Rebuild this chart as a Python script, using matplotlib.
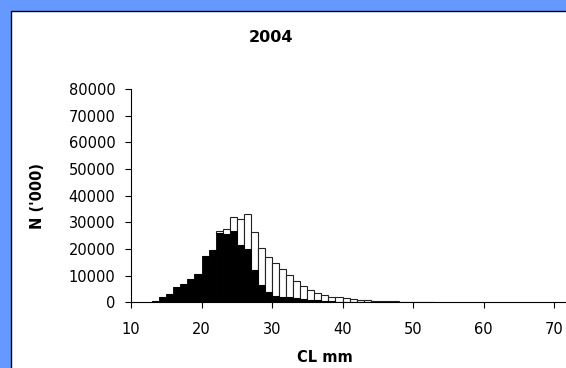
import matplotlib
matplotlib.use("Agg")
import matplotlib.pyplot as plt
from matplotlib.patches import Rectangle

# carapace length classes (left edge of each 1 mm class)
cl_classes = list(range(13, 53))

# lower (black) series, N ('000)
black_vals = [400, 2000, 3300, 5600, 6800, 8900, 10500, 17400, 19500, 26100,
              25500, 26600, 21600, 19900, 12100, 6600, 3800, 2400, 2100, 1900,
              1500, 1200, 900, 700, 500, 400, 300, 200, 150, 100,
              50, 50, 50, 0, 0, 0, 0, 0, 0, 0]

# total height of each stacked bar, N ('000)
total_vals = [400, 2000, 3300, 5600, 6800, 8900, 10500, 17400, 19500, 26900,
              27400, 32100, 31400, 33000, 26400, 20300, 16900, 14600, 12600, 10200,
              8000, 6200, 4700, 3500, 2600, 2000, 1850, 1800, 1300, 1000,
              800, 600, 600, 500, 350, 300, 250, 200, 150, 100]

white_vals = [t - b for t, b in zip(total_vals, black_vals)]

y_ticks = [0, 10000, 20000, 30000, 40000, 50000, 60000, 70000, 80000]
x_ticks = [10, 20, 30, 40, 50, 60, 70]

plt.rcParams['font.family'] = ['DejaVu Sans']

W, H = 566, 368
fig = plt.figure(figsize=(W / 100, H / 100), dpi=100)
fig.patch.set_facecolor('#6699ff')

# white chart area with thin black border (blue frame shows at left/top)
fig.patches.append(Rectangle((11 / W, -0.05), 1.2, (H - 11) / H + 0.05,
                             transform=fig.transFigure, facecolor='white',
                             edgecolor='black', linewidth=1.0, zorder=-10))

ax = fig.add_axes([131 / W, (H - 302.3) / H, 1 - 131 / W, (302.3 - 89) / H])
ax.set_facecolor('none')

ax.bar(cl_classes, black_vals, width=1.0, align='edge', color='black',
       edgecolor='black', linewidth=0.6, zorder=3)
ax.bar(cl_classes, white_vals, width=1.0, align='edge', bottom=black_vals,
       color='white', edgecolor='#222222', linewidth=0.8, zorder=2)

ax.set_xlim(10, 10 + (W - 131) / 7.05)
ax.set_ylim(0, 80000)
ax.set_xticks(x_ticks)
ax.set_yticks(y_ticks)
ax.tick_params(direction='out', length=4.3, width=0.8, labelsize=10.5)
ax.tick_params(axis='y', pad=7)
ax.tick_params(axis='x', pad=10)

for s in ['top', 'right']:
    ax.spines[s].set_visible(False)
for s in ['left', 'bottom']:
    ax.spines[s].set_linewidth(0.8)

fig.text(270.5 / W, 1 - 37 / H, '2004', ha='center', va='center',
         fontsize=11.5, fontweight='bold')
fig.text(325 / W, 1 - 357 / H, 'CL mm', ha='center', va='center',
         fontsize=10.5, fontweight='bold')
fig.text(37 / W, 1 - 196 / H, "N ('000)", ha='center', va='center',
         rotation=90, fontsize=10.5, fontweight='bold')

fig.savefig('out.png', dpi=100, facecolor=fig.get_facecolor())
